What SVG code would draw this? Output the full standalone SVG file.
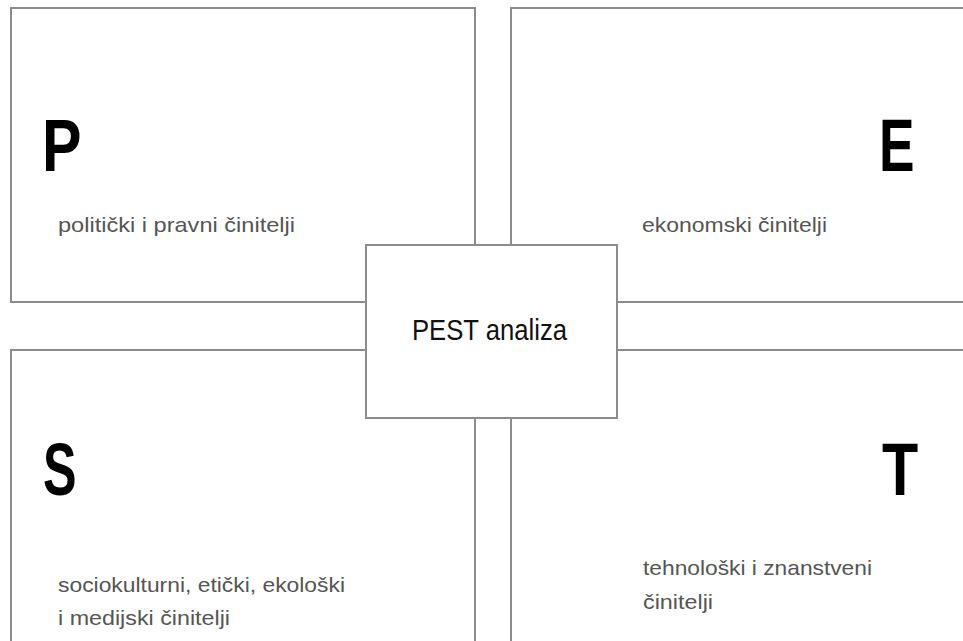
<svg xmlns="http://www.w3.org/2000/svg" width="963" height="641" viewBox="0 0 963 641">
<style>
.box{fill:#fff;stroke:#8c8c8c;stroke-width:2}
.big{font-family:"Liberation Sans",Arial,sans-serif;font-size:74px;font-weight:bold;fill:#000}
.sub{font-family:"Liberation Sans",Arial,sans-serif;font-size:21px;fill:#555}
.ctr{font-family:"Liberation Sans",Arial,sans-serif;font-size:30px;fill:#111}
</style>
<rect width="963" height="641" fill="#fff"/>
<g id="node-P">
<rect class="box" x="11" y="8" width="464" height="294"/>
<text class="big" transform="translate(42,171) scale(0.8,1)">P</text>
<text class="sub" x="58" y="232" textLength="237" lengthAdjust="spacingAndGlyphs">politički i pravni činitelji</text>
</g>
<g id="node-E">
<rect class="box" x="511" y="8" width="470" height="294"/>
<text class="big" transform="translate(879,171) scale(0.72,1)">E</text>
<text class="sub" x="642" y="232" textLength="185" lengthAdjust="spacingAndGlyphs">ekonomski činitelji</text>
</g>
<g id="node-S">
<rect class="box" x="11" y="350" width="464" height="310"/>
<text class="big" transform="translate(43,495) scale(0.68,1)">S</text>
<text class="sub" x="58" y="592" textLength="287" lengthAdjust="spacingAndGlyphs">sociokulturni, etički, ekološki</text>
<text class="sub" x="58" y="625" textLength="172" lengthAdjust="spacingAndGlyphs">i medijski činitelji</text>
</g>
<g id="node-T">
<rect class="box" x="511" y="350" width="470" height="310"/>
<text class="big" transform="translate(882,495) scale(0.8,1)">T</text>
<text class="sub" x="643" y="575" textLength="229" lengthAdjust="spacingAndGlyphs">tehnološki i znanstveni</text>
<text class="sub" x="643" y="609" textLength="70" lengthAdjust="spacingAndGlyphs">činitelji</text>
</g>
<g id="connectors"></g>
<g id="node-center">
<rect class="box" x="366" y="245" width="251" height="173"/>
<text class="ctr" x="412" y="340" textLength="155" lengthAdjust="spacingAndGlyphs">PEST analiza</text>
</g>
</svg>
